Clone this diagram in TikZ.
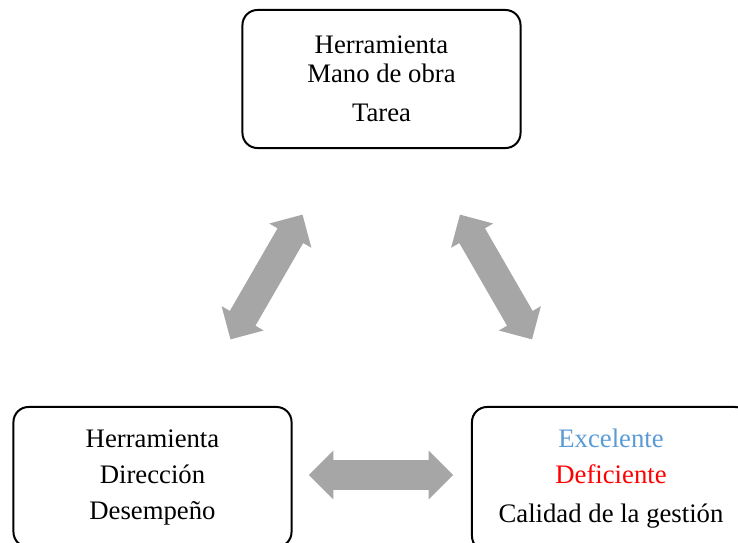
\documentclass[tikz,border=0pt]{standalone}
\usepackage{fontspec}
\setmainfont{Liberation Serif}
\usetikzlibrary{shapes.arrows}
\definecolor{arrowgray}{RGB}{166,166,166}
\definecolor{goodblue}{RGB}{91,155,213}
\tikzset{
  factorbox/.style={draw, line width=0.05cm, rounded corners=0.375cm,
    minimum width=6.95cm, minimum height=3.45cm, align=center,
    font=\fontsize{19}{25.6}\selectfont},
  linkarrow/.style={double arrow, fill=arrowgray, draw=none, inner xsep=0pt,
    inner ysep=0.3625cm, minimum height=3.6cm, double arrow head extend=0.2375cm}
}
\begin{document}
\begin{tikzpicture}[x=0.025cm,y=-0.025cm]
  \useasboundingbox (0,0) rectangle (738,542);
  \clip (0,0) rectangle (738,542);
  % the three boxes
  \node[factorbox] (tarea) at (381.5,79) {Herramienta\\[-5pt]Mano de obra\\[2pt]Tarea};
  \node[factorbox, minimum height=3.5cm] (direccion) at (152.5,477) {Herramienta\\Direcci\'on\\Desempe\~no};
  \node[factorbox, minimum height=3.6cm] (calidad) at (611,479) {\textcolor{goodblue}{Excelente}\\\textcolor{red}{Deficiente}\\[2pt]Calidad de la gesti\'on};
  % arrows between them
  \node[linkarrow, rotate=60] (leftlink) at (266.5,277) {};
  \node[linkarrow, rotate=-60] (rightlink) at (496,277) {};
  \node[linkarrow] (bottomlink) at (381,475) {};
\end{tikzpicture}
\end{document}
